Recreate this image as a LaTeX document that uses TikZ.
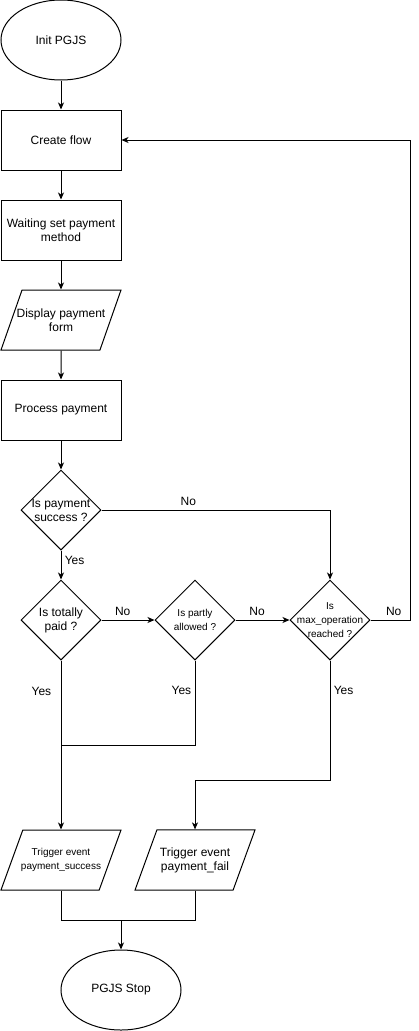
\documentclass[tikz,border=0pt]{standalone}
\usepackage{fontspec}
\setmainfont{Liberation Sans}
\usetikzlibrary{positioning}
\usetikzlibrary{shapes.geometric,arrows.meta}

\tikzset{
  flowbase/.style={draw, line width=1pt, align=center, inner sep=0pt},
  terminal/.style={flowbase, ellipse, minimum width=120pt, minimum height=80pt},
  process/.style={flowbase, rectangle, minimum width=120pt, minimum height=60pt},
  io/.style={flowbase, trapezium, trapezium left angle=70, trapezium right angle=110,
    trapezium stretches body=true, inner xsep=-20pt, inner ysep=17.5pt,
    minimum width=120pt, minimum height=60pt},
  decision/.style={flowbase, diamond, minimum width=80pt, minimum height=80pt},
  smalltext/.style={font=\fontsize{10}{14}\selectfont},
  qtext/.style={align=center, inner sep=0pt},
}

\begin{document}
\begin{tikzpicture}[x=1pt, y=1pt, line width=1pt,
    >={Stealth[length=7pt, width=6pt, inset=2pt]},
    font=\fontsize{12}{14}\selectfont]
  \useasboundingbox (0,0) rectangle (419,-1031);
  \node[terminal] (Init) at (61,-40) {Init PGJS};
  \node[process] (Flow) [node distance=100pt, below of=Init] {Create flow};
  \node[process] (Wait) [node distance=90pt, below of=Flow] {Waiting set payment\\method};
  \node[io] (Form) [node distance=90pt, below of=Wait] {Display payment\\form};
  \node[process] (Proc) [node distance=90pt, below of=Form] {Process payment};
  \node[decision, label={[qtext]center:Is payment\\success ?}] (Succ) [node distance=100pt, below of=Proc] {};
  \node[decision, label={[qtext]center:Is totally\\paid ?}] (Paid) [node distance=110pt, below of=Succ] {};
  \node[decision, label={[qtext,smalltext]center:Is partly\\allowed ?}] (Part) [node distance=134pt, right of=Paid] {};
  \node[decision, label={[qtext,smalltext]center:Is\\max\_operation\\reached ?}] (Max) [node distance=135pt, right of=Part] {};
  \node[io, smalltext, inner ysep=18.3pt] (TrigS) [node distance=240pt, below of=Paid] {Trigger event\\payment\_success};
  \node[io] (TrigF) [node distance=240pt, below of=Part] {Trigger event\\payment\_fail};
  \node[terminal] (Stop) at (121,-990) {PGJS Stop};
  \coordinate[node distance=125pt, below of=Paid] (J1);
  \coordinate[node distance=70pt, above of=Stop] (J3);

  \draw[->] (Init) to (Flow);
  \draw[->] (Flow) to (Wait);
  \draw[->] (Wait) to (Form);
  \draw[->] (Form) to (Proc);
  \draw[->] (Proc) to (Succ);
  \draw[->] (Succ) to node [pos=0.33, right] {Yes} (Paid);
  \draw[->] (Succ.east) -| node [pos=0.19, above=1pt] {No} (Max.north);
  \draw[->] (Paid) to node [pos=0.4, above=1pt] {No} (Part);
  \draw[->] (Part) to node [pos=0.4, above=1pt] {No} (Max);
  \draw[->] (Max.east) -- node [pos=0.58, above=1pt] {No} ++(40,0) |- (Flow.east);
  \draw[->] (Paid) to node [pos=0.18, left=6pt] {Yes} (TrigS);
  \draw (Part.south) |- node [pos=0.18, left] {Yes} (J1);
  \draw[->] (Max.south) -- node [pos=0.25, right] {Yes} ++(0,-120) -| (TrigF.north);
  \draw (TrigS.south) |- (J3);
  \draw (TrigF.south) |- (J3);
  \draw[->] (J3) to (Stop);
\end{tikzpicture}
\end{document}
